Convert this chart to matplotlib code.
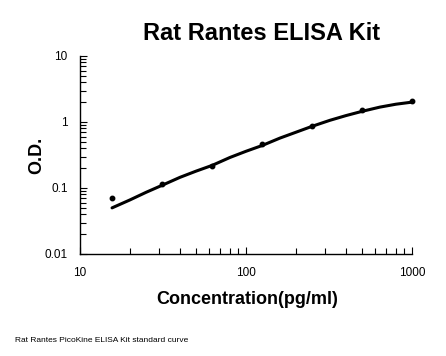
import matplotlib
matplotlib.use("Agg")
import matplotlib.pyplot as plt
from matplotlib.ticker import LogLocator, FuncFormatter, NullFormatter

plt.rcParams['font.family'] = ['Liberation Sans', 'DejaVu Sans']

# standard points
conc = [15.6, 31.25, 62.5, 125, 250, 500, 1000]
od = [0.071, 0.115, 0.215, 0.46, 0.88, 1.50, 2.06]

# fitted curve
curve_conc = [15.6, 20, 25, 31.25, 40, 50, 62.5, 80, 100, 125, 160, 200,
              250, 320, 400, 500, 640, 800, 1000]
curve_od = [0.050, 0.066, 0.086, 0.110, 0.145, 0.180, 0.220, 0.290, 0.360,
            0.440, 0.570, 0.700, 0.860, 1.06, 1.25, 1.45, 1.68, 1.86, 2.00]

fig = plt.figure(figsize=(4.46, 3.56), dpi=100)
ax = fig.add_axes([80/446, 1-254/356, 332/446, 198/356])

ax.plot(curve_conc, curve_od, color='black', lw=2.2, solid_capstyle='round',
        clip_on=False)
ax.plot(conc, od, 'o', color='black', ms=3.2, clip_on=False)

ax.set_xscale('log')
ax.set_yscale('log')
ax.set_xlim(10, 1000)
ax.set_ylim(0.01, 10)

fmt = FuncFormatter(lambda v, p: '%g' % v)
ax.xaxis.set_major_formatter(fmt)
ax.yaxis.set_major_formatter(fmt)
ax.xaxis.set_minor_locator(LogLocator(base=10, subs=range(2, 10)))
ax.yaxis.set_minor_locator(LogLocator(base=10, subs=range(2, 10)))
ax.xaxis.set_minor_formatter(NullFormatter())
ax.yaxis.set_minor_formatter(NullFormatter())

ax.tick_params(which='both', direction='in', width=0.8, color='black')
ax.tick_params(which='major', length=5)
ax.tick_params(which='minor', length=4)
ax.tick_params(axis='y', which='major', pad=9, labelsize=8.5)
ax.tick_params(axis='x', which='major', pad=9, labelsize=8.5)

for s in ['top', 'right']:
    ax.spines[s].set_visible(False)
for s in ['left', 'bottom']:
    ax.spines[s].set_linewidth(1.0)

fig.text(262/446, 1-34/356, 'Rat Rantes ELISA Kit', ha='center', va='center',
         fontsize=17, fontweight='bold')
fig.text(247/446, 1-300/356, 'Concentration(pg/ml)', ha='center', va='center',
         fontsize=13, fontweight='bold')
fig.text(37/446, 1-155/356, 'O.D.', ha='center', va='center', rotation=90,
         fontsize=13, fontweight='bold')
fig.text(15/446, 1-341/356, 'Rat Rantes PicoKine ELISA Kit standard curve',
         ha='left', va='center', fontsize=6)

fig.savefig('out.png', dpi=100)
